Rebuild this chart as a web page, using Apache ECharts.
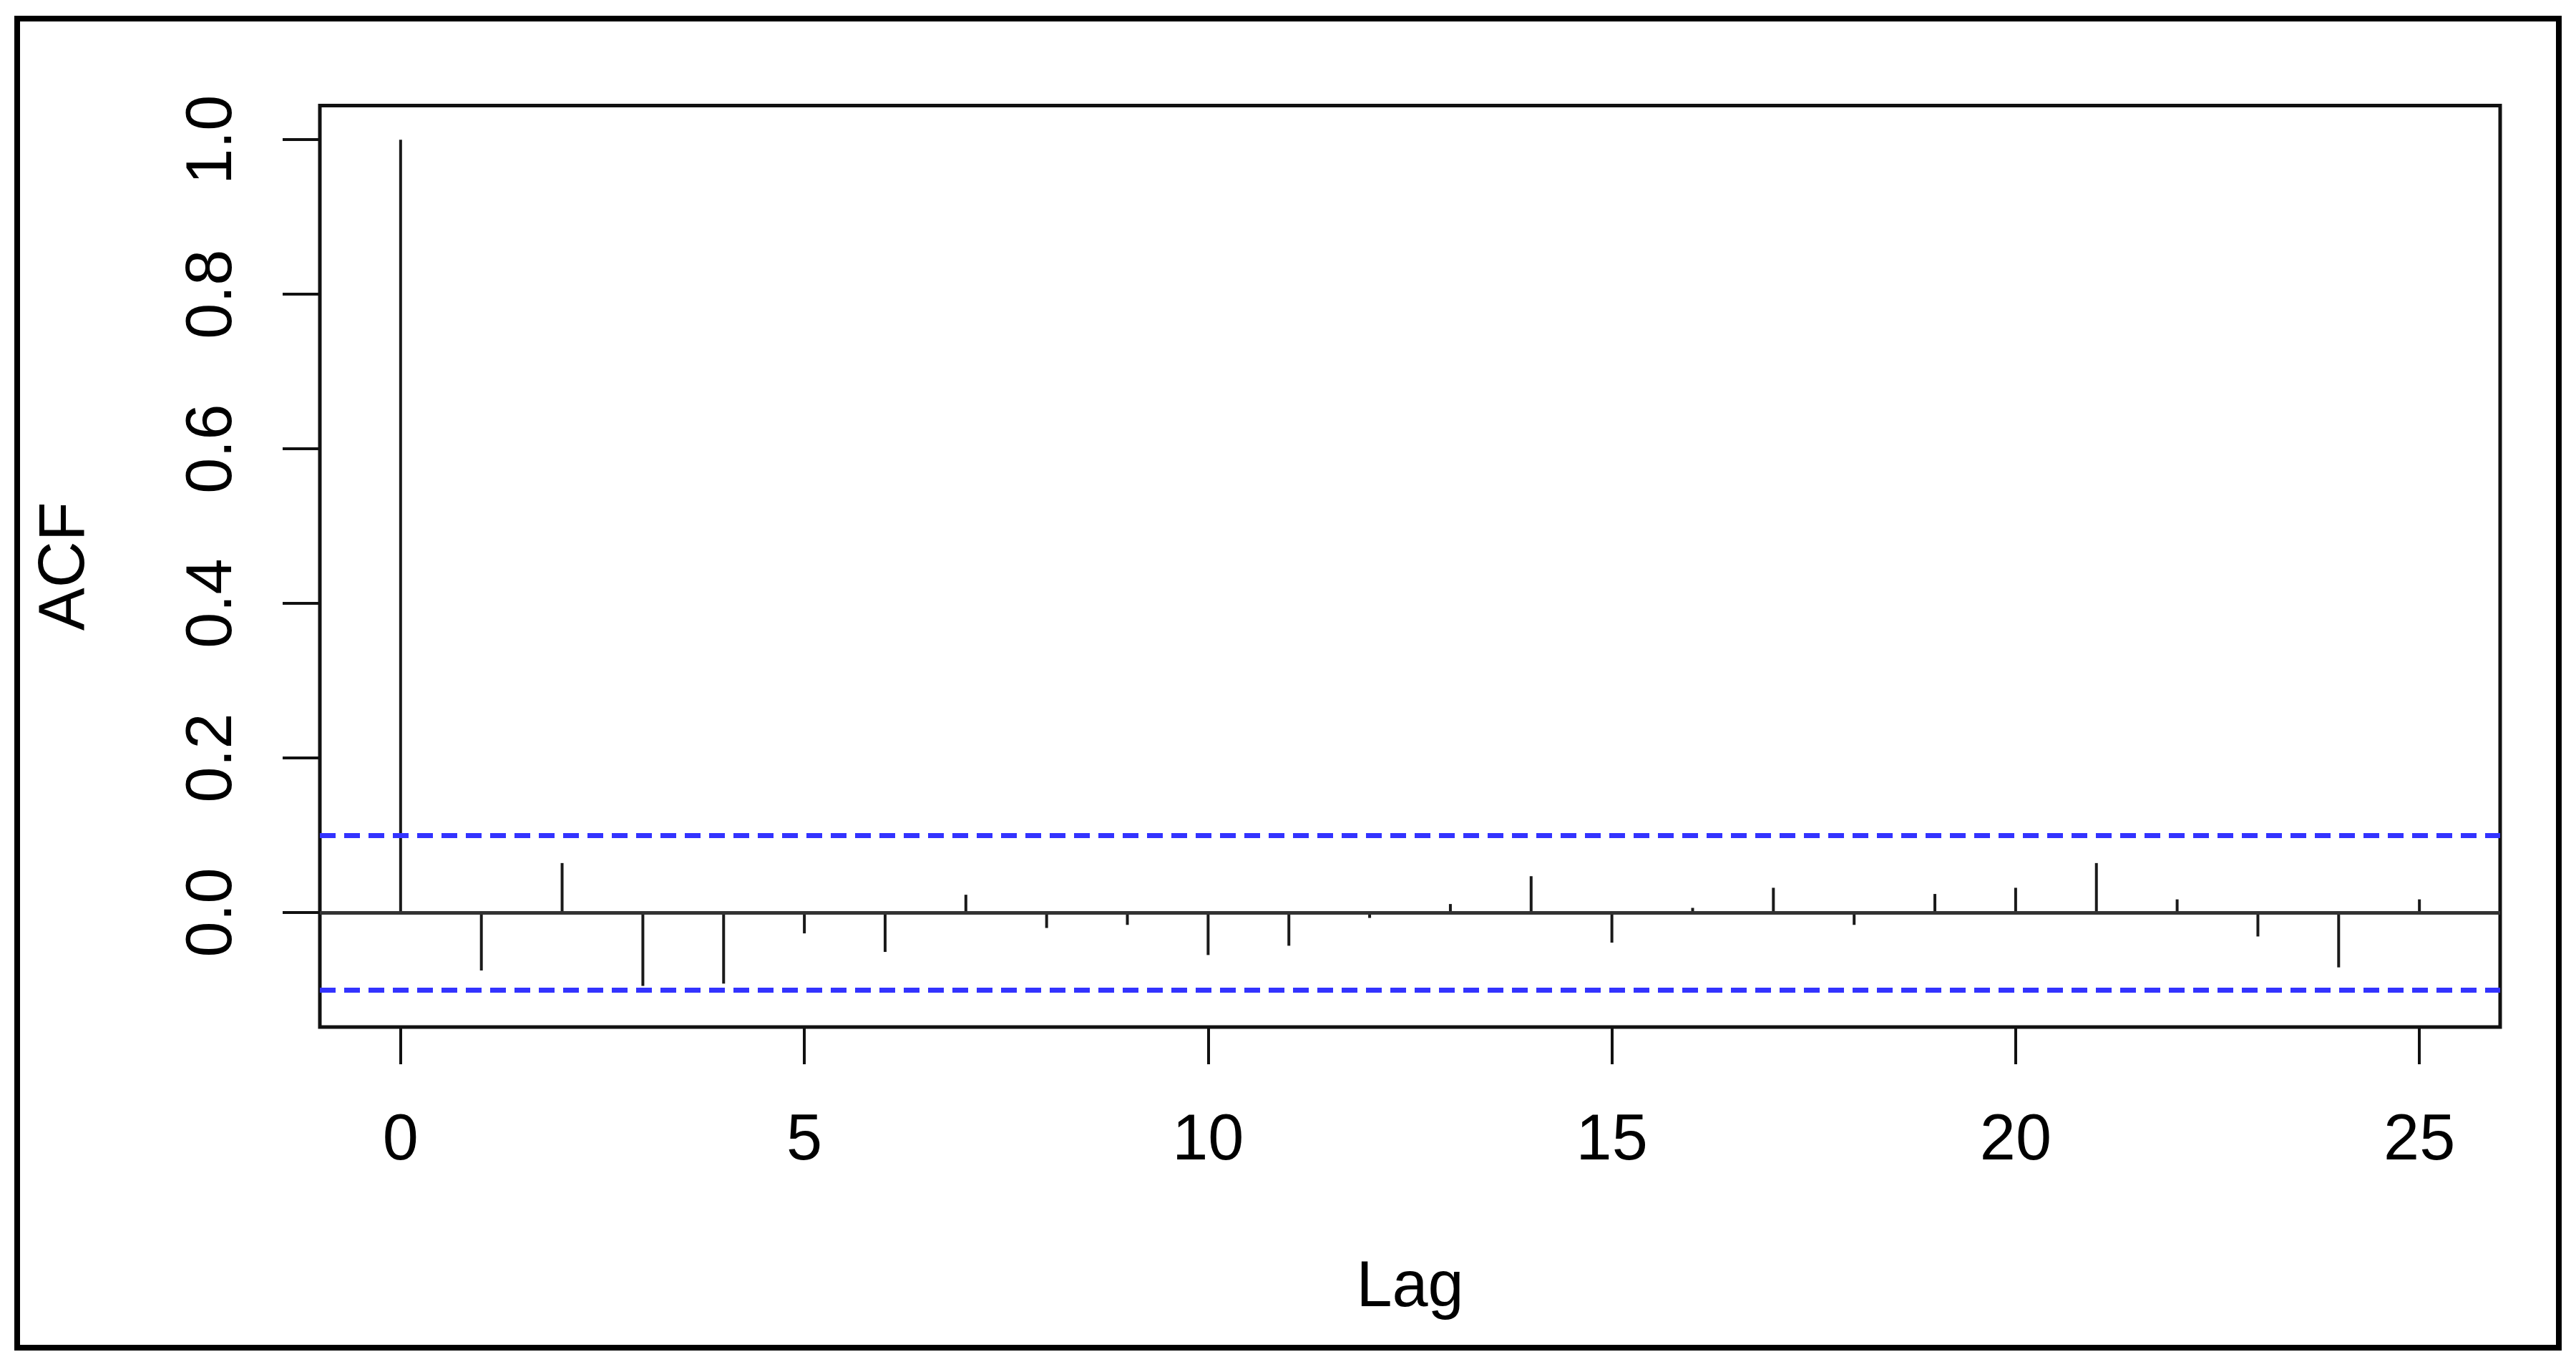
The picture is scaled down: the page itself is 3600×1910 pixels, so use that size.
<!DOCTYPE html>
<html>
<head>
<meta charset="utf-8">
<script src="https://cdn.jsdelivr.net/npm/echarts@6/dist/echarts.min.js"></script>
<style>
  html, body { margin: 0; padding: 0; background: #fff; }
  #frame {
    position: absolute; left: 20px; top: 22px; width: 3560px; height: 1865px;
    box-sizing: border-box; border: 8px solid #000;
  }
  #chart { position: absolute; left: 0; top: 0; width: 3600px; height: 1910px; }
</style>
</head>
<body>
<div id="frame"></div>
<div id="chart"></div>
<script>
// ACF by lag
const lags = [0, 1, 2, 3, 4, 5, 6, 7, 8, 9, 10, 11, 12, 13, 14, 15, 16, 17, 18, 19, 20, 21, 22, 23, 24, 25]
const acfValues = [1.0, -0.075, 0.064, -0.095, -0.092, -0.027, -0.051, 0.023, -0.020, -0.016,
  -0.055, -0.043, -0.007, 0.011, 0.047, -0.039, 0.006, 0.032, -0.016, 0.024,
  0.032, 0.064, 0.017, -0.031, -0.071, 0.017]
const ciLimit = 0.104
const xTicks = [0, 5, 10, 15, 20, 25]
const yTicks = [0, 0.2, 0.4, 0.6, 0.8, 1.0]

const font = "'Liberation Sans', Arial, sans-serif"
const chart = echarts.init(document.getElementById('chart'), null, { renderer: 'canvas' })

chart.setOption({
  animation: false,
  backgroundColor: 'transparent',
  textStyle: { fontFamily: font, color: '#000' },
  grid: {
    left: 447, top: 147.5, right: 106, bottom: 475,
    show: true, borderColor: '#111', borderWidth: 5, backgroundColor: 'transparent'
  },
  xAxis: {
    type: 'value',
    min: -1, max: 26,
    name: 'Lag', nameLocation: 'middle', nameGap: 320,
    nameTextStyle: { fontSize: 90, color: '#000', fontFamily: font },
    axisLine: { show: false, onZero: false },
    axisTick: { show: true, inside: false, length: 52, customValues: xTicks, lineStyle: { color: '#111', width: 4 } },
    axisLabel: { show: true, margin: 115, fontSize: 90, color: '#000', fontFamily: font, customValues: xTicks },
    splitLine: { show: false }
  },
  yAxis: {
    type: 'value',
    min: -0.1482, max: 1.0442,
    name: 'ACF', nameLocation: 'middle', nameGap: 310, nameRotate: 90,
    nameTextStyle: { fontSize: 90, color: '#000', fontFamily: font },
    axisLine: { show: false, onZero: false },
    axisTick: { show: true, inside: false, length: 52, customValues: yTicks, lineStyle: { color: '#111', width: 4 } },
    axisLabel: {
      show: true, rotate: 90, margin: 104, fontSize: 90, color: '#000', fontFamily: font,
      customValues: yTicks, formatter: v => v.toFixed(1)
    },
    splitLine: { show: false }
  },
  series: [{
    type: 'bar',
    barWidth: 4,
    itemStyle: { color: '#1a1a1a' },
    data: lags.map((l, i) => [l, acfValues[i]]),
    markLine: {
      silent: true,
      symbol: 'none',
      label: { show: false },
      data: [
        { yAxis: 0, lineStyle: { color: '#333', width: 5, type: 'solid' } },
        { yAxis: ciLimit, lineStyle: { color: '#3333ff', width: 7, type: [22, 12] } },
        { yAxis: -ciLimit, lineStyle: { color: '#3333ff', width: 7, type: [22, 12] } }
      ]
    }
  }]
})
</script>
</body>
</html>
